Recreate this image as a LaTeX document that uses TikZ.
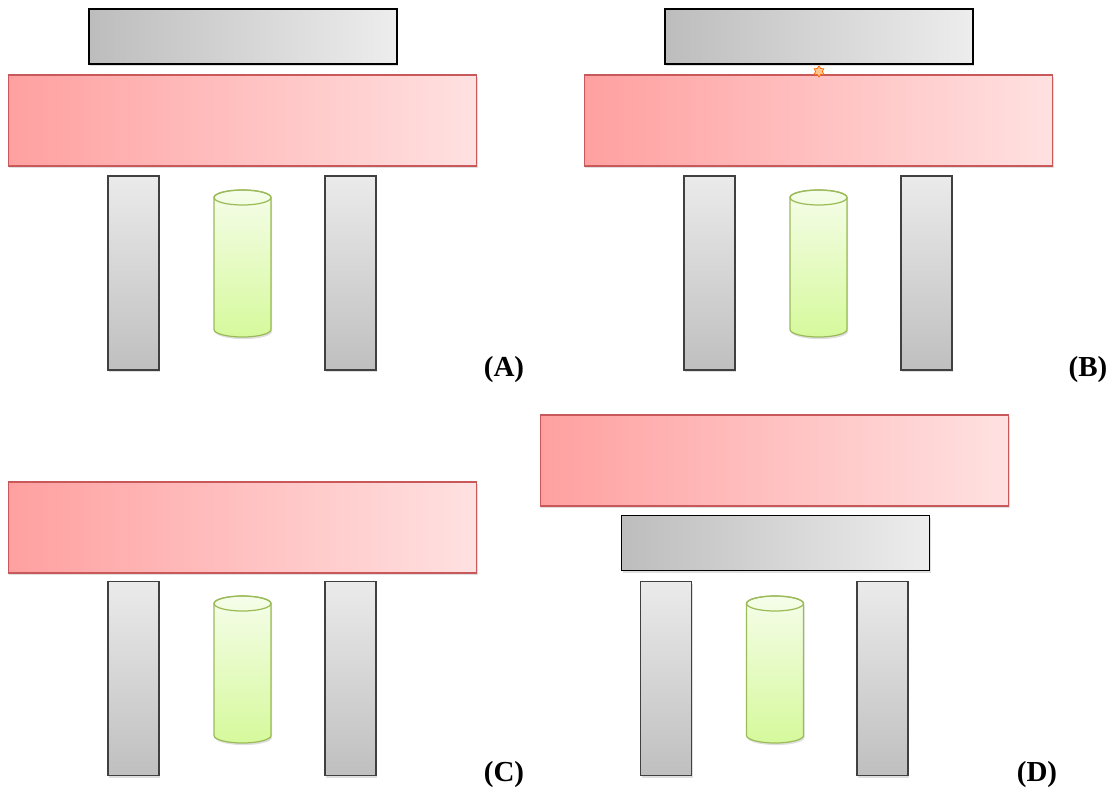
\documentclass[tikz,border=0pt]{standalone}
\usepackage{fontspec}
\setmainfont{Liberation Serif}
\usetikzlibrary{shapes.geometric,shadows}
\definecolor{rosa}{HTML}{FFA0A0}
\definecolor{rosaclaro}{HTML}{FFE1E1}
\definecolor{bordo}{HTML}{C8585A}
\definecolor{verdeclaro}{HTML}{F5FDE9}
\definecolor{verde}{HTML}{D6F99C}
\definecolor{verdeborde}{HTML}{9BBB59}
\newcommand{\FL}{\fontsize{16.5}{19}\selectfont\bfseries}
% tubo de ensayo: centro x, y de la tapa, y del fondo
\newcommand{\tubo}[3]{%
  \shade[tuboestilo] (#1-28.5,#2) -- (#1-28.5,#3)
    arc[start angle=180,end angle=360,x radius=0.57cm,y radius=0.15cm] -- (#1+28.5,#2)
    arc[start angle=0,end angle=180,x radius=0.57cm,y radius=0.15cm] -- cycle;
  \draw[verdeborde,line width=0.7pt] (#1,#2) ellipse[x radius=0.57cm,y radius=0.15cm];
}

\begin{document}
\begin{tikzpicture}[x=0.02cm,y=-0.02cm]
\tikzstyle{sombra}=[drop shadow={shadow xshift=0.6pt,shadow yshift=-1.2pt,opacity=0.25}]
\tikzstyle{texto}=[draw=none,fill=none,black,font=\FL,inner sep=0pt]
\tikzstyle{placa}=[rectangle,draw=black,line width=0.9pt,left color=black!26,right color=black!7,
  minimum width=6.16cm,minimum height=1.1cm,inner sep=0pt,sombra]
\tikzstyle{iman}=[rectangle,draw=bordo,line width=0.6pt,left color=rosa,right color=rosaclaro,
  minimum width=9.38cm,minimum height=1.82cm,inner sep=0pt,sombra]
\tikzstyle{pilar}=[rectangle,draw=black!75,line width=0.9pt,top color=black!8,bottom color=black!25,
  minimum width=1.02cm,minimum height=3.88cm,inner sep=0pt,sombra]
\tikzstyle{tuboestilo}=[draw=verdeborde,line width=0.7pt,top color=verdeclaro,bottom color=verde,sombra]

\useasboundingbox (0,0) rectangle (1115,791);

% (A)
\node[placa] (placaA) at (243,36.5) {};
\node[iman]  (imanA)  at (242.5,120.5) {};
\node[pilar] (pilarAi) at (133.5,273) {};
\tubo{242.5}{197.5}{329.5}
\node[pilar] (pilarAd) at (350.5,273) {};
\node[texto] (etqA) at (504,370) {(A)};

% (B)
\node[placa] (placaB) at (819,36.5) {};
\node[iman]  (imanB)  at (818.5,120.5) {};
\node[pilar] (pilarBi) at (709.5,273) {};
\tubo{818.5}{197.5}{329.5}
\node[pilar] (pilarBd) at (926.5,273) {};
\node[star,star points=6,star point ratio=1.6,draw=orange!80!red,fill=orange!45,line width=0.4pt,
  minimum size=0.22cm,inner sep=0pt] (chispa) at (819,71.5) {};
\node[texto] (etqB) at (1088,370) {(B)};

% (C)
\node[iman]  (imanC)  at (242.5,527.5) {};
\node[pilar] (pilarCi) at (133.5,678.5) {};
\tubo{242.5}{603.5}{735.5}
\node[pilar] (pilarCd) at (350.5,678.5) {};
\node[texto] (etqC) at (504,775) {(C)};

% (D)
\node[iman]  (imanD)  at (774.5,460.5) {};
\node[placa] (placaD) at (775.5,543) {};
\node[pilar] (pilarDi) at (666,678.5) {};
\tubo{775}{603.5}{735.5}
\node[pilar] (pilarDd) at (882.5,678.5) {};
\node[texto] (etqD) at (1037,775) {(D)};
\end{tikzpicture}
\end{document}
